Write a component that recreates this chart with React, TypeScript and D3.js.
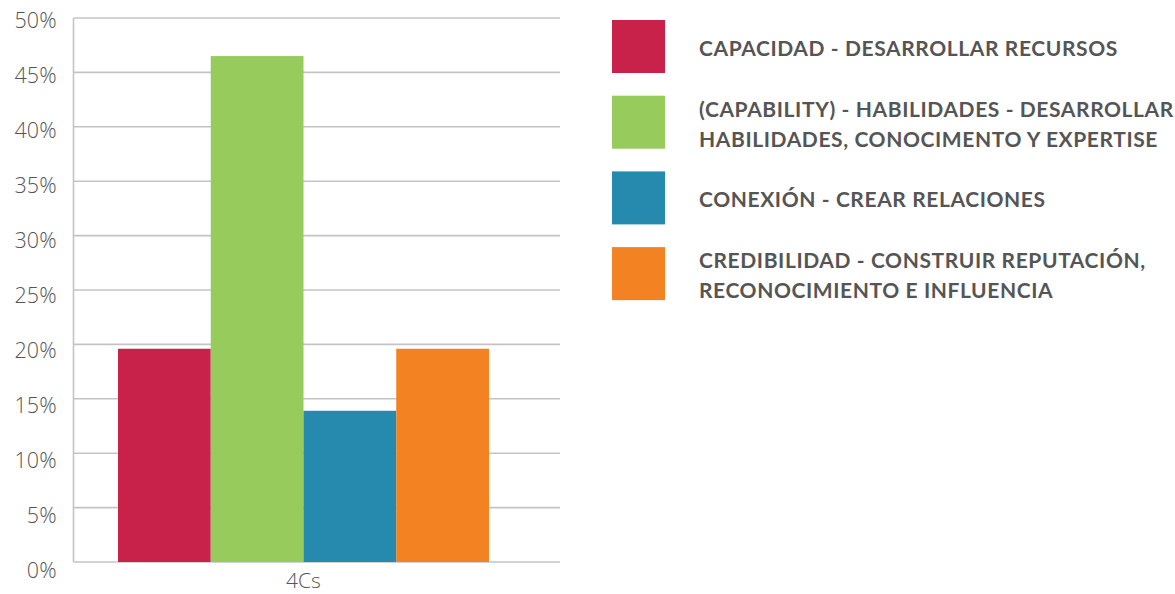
import * as React from 'react';
import * as d3 from 'd3';

const WIDTH = 1175;
const HEIGHT = 594;

// chart values
const categories = ['4Cs'];
const seriesNames = [
    'CAPACIDAD - DESARROLLAR RECURSOS',
    '(CAPABILITY) - HABILIDADES - DESARROLLAR|HABILIDADES, CONOCIMENTO Y EXPERTISE',
    'CONEXIÓN - CREAR RELACIONES',
    'CREDIBILIDAD - CONSTRUIR REPUTACIÓN,|RECONOCIMIENTO E INFLUENCIA',
];
const seriesValues = [0.196, 0.465, 0.139, 0.196];
const seriesColors = ['#c8224a', '#97cb5b', '#268aaf', '#f38322'];
const yTicks = [0, 0.05, 0.1, 0.15, 0.2, 0.25, 0.3, 0.35, 0.4, 0.45, 0.5];

const MARGINS = { top: 18, left: 73.5, bottom: 32, right: 615 };

export default function App() {
    const ref = React.useRef<SVGSVGElement>(null);

    React.useEffect(() => {
        const svg = d3.select(ref.current);
        svg.selectAll('*').remove();

        const plotBottom = HEIGHT - MARGINS.bottom;
        const plotRight = WIDTH - MARGINS.right;

        const yScale = d3.scaleLinear().domain([0, 0.5]).range([plotBottom, MARGINS.top]);
        // tick labels are spread a little wider than the gridlines in the source
        const yLabelScale = d3.scaleLinear().domain([0, 0.5]).range([plotBottom + 8.5, MARGINS.top + 2.5]);
        // the category band sits a bit left of the plot center, as in the source
        const xScale = d3.scaleBand().domain(categories).range([MARGINS.left, plotRight - 26.5]).paddingOuter(0.12);
        const sub = d3.scaleBand().domain(seriesNames).range([0, xScale.bandwidth()]);

        // gridlines
        svg.append('g')
            .selectAll('line')
            .data(yTicks)
            .join('line')
            .attr('x1', MARGINS.left)
            .attr('x2', plotRight)
            .attr('y1', d => yScale(d))
            .attr('y2', d => yScale(d))
            .attr('stroke', '#c4c4c8')
            .attr('stroke-width', 1.6);

        // left axis line
        svg.append('line')
            .attr('x1', MARGINS.left)
            .attr('x2', MARGINS.left)
            .attr('y1', yScale(0.5))
            .attr('y2', yScale(0))
            .attr('stroke', '#c4c4c8')
            .attr('stroke-width', 1.6);

        // y tick labels
        svg.append('g')
            .selectAll('text')
            .data(yTicks)
            .join('text')
            .attr('x', MARGINS.left - 17)
            .attr('y', d => yLabelScale(d) + 7.5)
            .attr('text-anchor', 'end')
            .attr('font-family', 'Open Sans')
            .attr('font-weight', 300)
            .attr('font-size', 21.5)
            .attr('fill', '#555')
            .text(d => d3.format('.0%')(d));

        // bars
        const g = svg.append('g');
        categories.forEach(cat => {
            g.selectAll('rect')
                .data(seriesNames)
                .join('rect')
                .attr('x', d => (xScale(cat) as number) + (sub(d) as number))
                .attr('width', sub.bandwidth())
                .attr('y', (d, i) => yScale(seriesValues[i]))
                .attr('height', (d, i) => yScale(0) - yScale(seriesValues[i]))
                .attr('fill', (d, i) => seriesColors[i]);
        });

        // x labels
        svg.append('g')
            .selectAll('text')
            .data(categories)
            .join('text')
            .attr('x', d => (xScale(d) as number) + xScale.bandwidth() / 2)
            .attr('y', plotBottom + 26)
            .attr('text-anchor', 'middle')
            .attr('font-family', 'Open Sans')
            .attr('font-weight', 300)
            .attr('font-size', 21)
            .attr('fill', '#555')
            .text(d => d);

        // legend
        const legendTop = 20;
        const legendStep = 75.7;
        const legend = svg.append('g').attr('transform', 'translate(612,' + legendTop + ')');
        const items = legend.selectAll('g')
            .data(seriesNames)
            .join('g')
            .attr('transform', (d, i) => 'translate(0,' + i * legendStep + ')');

        items.append('rect')
            .attr('width', 53)
            .attr('height', 53)
            .attr('fill', (d, i) => seriesColors[i]);

        items.each(function (d) {
            const lines = d.split('|');
            const lh = 30;
            const start = 26.5 + 2 - ((lines.length - 1) * lh) / 2;
            d3.select(this)
                .selectAll('text')
                .data(lines)
                .join('text')
                .attr('x', 87)
                .attr('y', (l, k) => start + k * lh)
                .attr('dy', '0.35em')
                .attr('font-family', 'Lato')
                .attr('font-weight', 700)
                .attr('font-size', 21)
                .attr('letter-spacing', 0.6)
                .attr('fill', '#555')
                .text(l => l);
        });
    }, []);

    return (
        <svg
            ref={ref}
            width={WIDTH}
            height={HEIGHT}
            style={{ position: 'absolute', left: 0, top: 0, background: '#fff' }}
        />
    );
}
